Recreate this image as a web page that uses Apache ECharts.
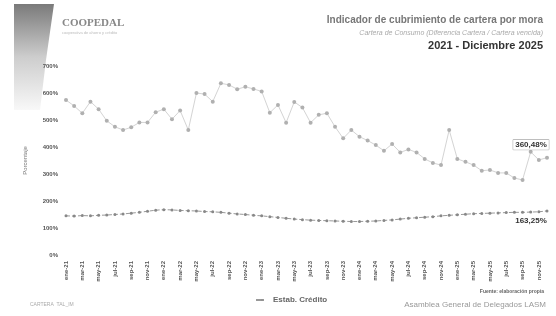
<!DOCTYPE html>
<html>
<head>
<meta charset="utf-8">
<script src="https://cdn.jsdelivr.net/npm/echarts@6/dist/echarts.min.js"></script>
<style>
  html, body { margin: 0; padding: 0; background: #fff; }
  #main { width: 556px; height: 316px; }
</style>
</head>
<body>
<div id="main"></div>
<script>
// meses ene-21 .. dic-25
var mesesNombre = ['ene', 'feb', 'mar', 'abr', 'may', 'jun', 'jul', 'ago', 'sep', 'oct', 'nov', 'dic'];
var anios = ['21', '22', '23', '24', '25'];
var meses = [];
anios.forEach(function (a) {
  mesesNombre.forEach(function (m) { meses.push(m + '-' + a); });
});

// cobertura de la cooperativa (%)
var cobertura = [
  574, 552, 525, 568, 540, 497, 475, 463, 473, 491, 491, 529,
  540, 503, 535, 463, 600, 596, 568, 636, 630, 614, 623, 615,
  606, 527, 556, 490, 567, 546, 490, 519, 525, 475, 432, 463,
  438, 424, 407, 386, 411, 380, 391, 380, 356, 341, 333, 463,
  356, 345, 333, 312, 315, 304, 304, 285, 278, 382, 352, 360.48
];

// Estab. Crédito (%)
var establecimientos = [
  145, 144, 146, 145, 147, 148, 150, 152, 155, 158, 162, 166,
  168, 167, 165, 164, 163, 161, 160, 158, 155, 152, 150, 147,
  145, 142, 139, 136, 133, 131, 129, 128, 127, 126, 125, 124,
  124, 125, 126, 128, 130, 133, 136, 138, 140, 142, 145, 147,
  149, 151, 153, 154, 155, 156, 157, 158, 158, 159, 160, 163.25
];

// solo el ultimo punto lleva etiqueta
function conEtiqueta(valores, etiqueta) {
  var ultimo = valores.length - 1;
  return valores.map(function (v, i) {
    return i === ultimo ? { value: v, label: etiqueta } : v;
  });
}
function fmt(p) {
  return p.value.toFixed(2).replace('.', ',') + '%';
}

var myChart = echarts.init(document.getElementById('main'));

var option = {
  backgroundColor: '#fff',
  animation: false,
  title: [
    {
      text: 'Indicador de cubrimiento de cartera por mora',
      right: 8, top: 10,
      textStyle: { fontSize: 10, fontWeight: 'bold', color: '#777', fontFamily: 'Liberation Sans' }
    },
    {
      text: 'Cartera de Consumo (Diferencia Cartera / Cartera vencida)',
      right: 8, top: 25,
      textStyle: { fontSize: 7, fontStyle: 'italic', fontWeight: 'normal', color: '#aaa', fontFamily: 'Liberation Sans' }
    },
    {
      text: '2021 - Diciembre 2025',
      right: 8, top: 35,
      textStyle: { fontSize: 11, fontWeight: 'bold', color: '#333', fontFamily: 'Liberation Sans' }
    }
  ],
  graphic: [
    {
      type: 'polygon',
      shape: { points: [[14, 4], [54, 4], [46, 60], [40, 110], [14, 110]] },
      style: {
        fill: new echarts.graphic.LinearGradient(0, 0, 0, 1, [
          { offset: 0, color: '#7a7a7a' },
          { offset: 0.5, color: '#cdcdcd' },
          { offset: 1, color: '#f8f8f8' }
        ])
      },
      z: -1
    },
    {
      type: 'text', left: 62, top: 18,
      style: { text: 'COOPEDAL', fontSize: 11, fontWeight: 'bold', fill: '#888', fontFamily: 'Liberation Serif' }
    },
    {
      type: 'text', left: 62, top: 31,
      style: { text: 'cooperativa de ahorro y crédito', fontSize: 4, fill: '#bbb' }
    },
    {
      type: 'text', left: 30, top: 302,
      style: { text: 'CARTERA  TAL_IM', fontSize: 5, fill: '#aaa' }
    },
    {
      type: 'text', right: 12, top: 289,
      style: { text: 'Fuente: elaboración propia', fontSize: 5, fontWeight: 'bold', fill: '#666' }
    },
    {
      type: 'text', right: 10, top: 301,
      style: { text: 'Asamblea General de Delegados LASM', fontSize: 8, fill: '#999' }
    }
  ],
  legend: {
    data: ['Estab. Crédito'],
    left: 250, top: 291,
    itemWidth: 12, itemHeight: 2,
    textStyle: { fontSize: 8, fontWeight: 'bold', color: '#666' }
  },
  grid: { left: 66, right: 9, top: 66, bottom: 61 },
  xAxis: {
    type: 'category',
    data: meses,
    boundaryGap: false,
    axisLine: { show: false },
    axisTick: { show: false },
    axisLabel: {
      interval: 1,
      rotate: 90,
      fontSize: 6,
      fontWeight: 'bold',
      color: '#555',
      margin: 6
    }
  },
  yAxis: {
    type: 'value',
    min: 0, max: 700, interval: 100,
    name: 'Porcentaje',
    nameLocation: 'middle',
    nameGap: 38,
    nameTextStyle: { fontSize: 6, color: '#777' },
    axisLine: { show: false },
    axisTick: { show: false },
    splitLine: { show: false },
    axisLabel: {
      formatter: '{value}%',
      fontSize: 6,
      fontWeight: 'bold',
      color: '#555'
    }
  },
  series: [
    {
      name: 'Cobertura',
      type: 'line',
      data: conEtiqueta(cobertura, {
        show: true, position: 'top', distance: 6,
        formatter: fmt,
        fontSize: 8, fontWeight: 'bold', color: '#333',
        backgroundColor: '#fff', borderColor: '#999', borderWidth: 0.5, padding: [1, 2],
        offset: [-16, 0]
      }),
      symbol: 'circle',
      symbolSize: 4,
      lineStyle: { width: 1, color: '#d4d4d4' },
      itemStyle: { color: '#b0b0b0' }
    },
    {
      name: 'Estab. Crédito',
      type: 'line',
      data: conEtiqueta(establecimientos, {
        show: true, position: 'bottom', distance: 4,
        formatter: fmt,
        fontSize: 8, fontWeight: 'bold', color: '#333',
        offset: [-16, 0]
      }),
      symbol: 'circle',
      symbolSize: 3,
      lineStyle: { width: 1, color: '#999', type: 'dashed' },
      itemStyle: { color: '#888' }
    }
  ]
};

myChart.setOption(option);
window.onresize = function () {
  myChart.resize();
};
</script>
</body>
</html>
